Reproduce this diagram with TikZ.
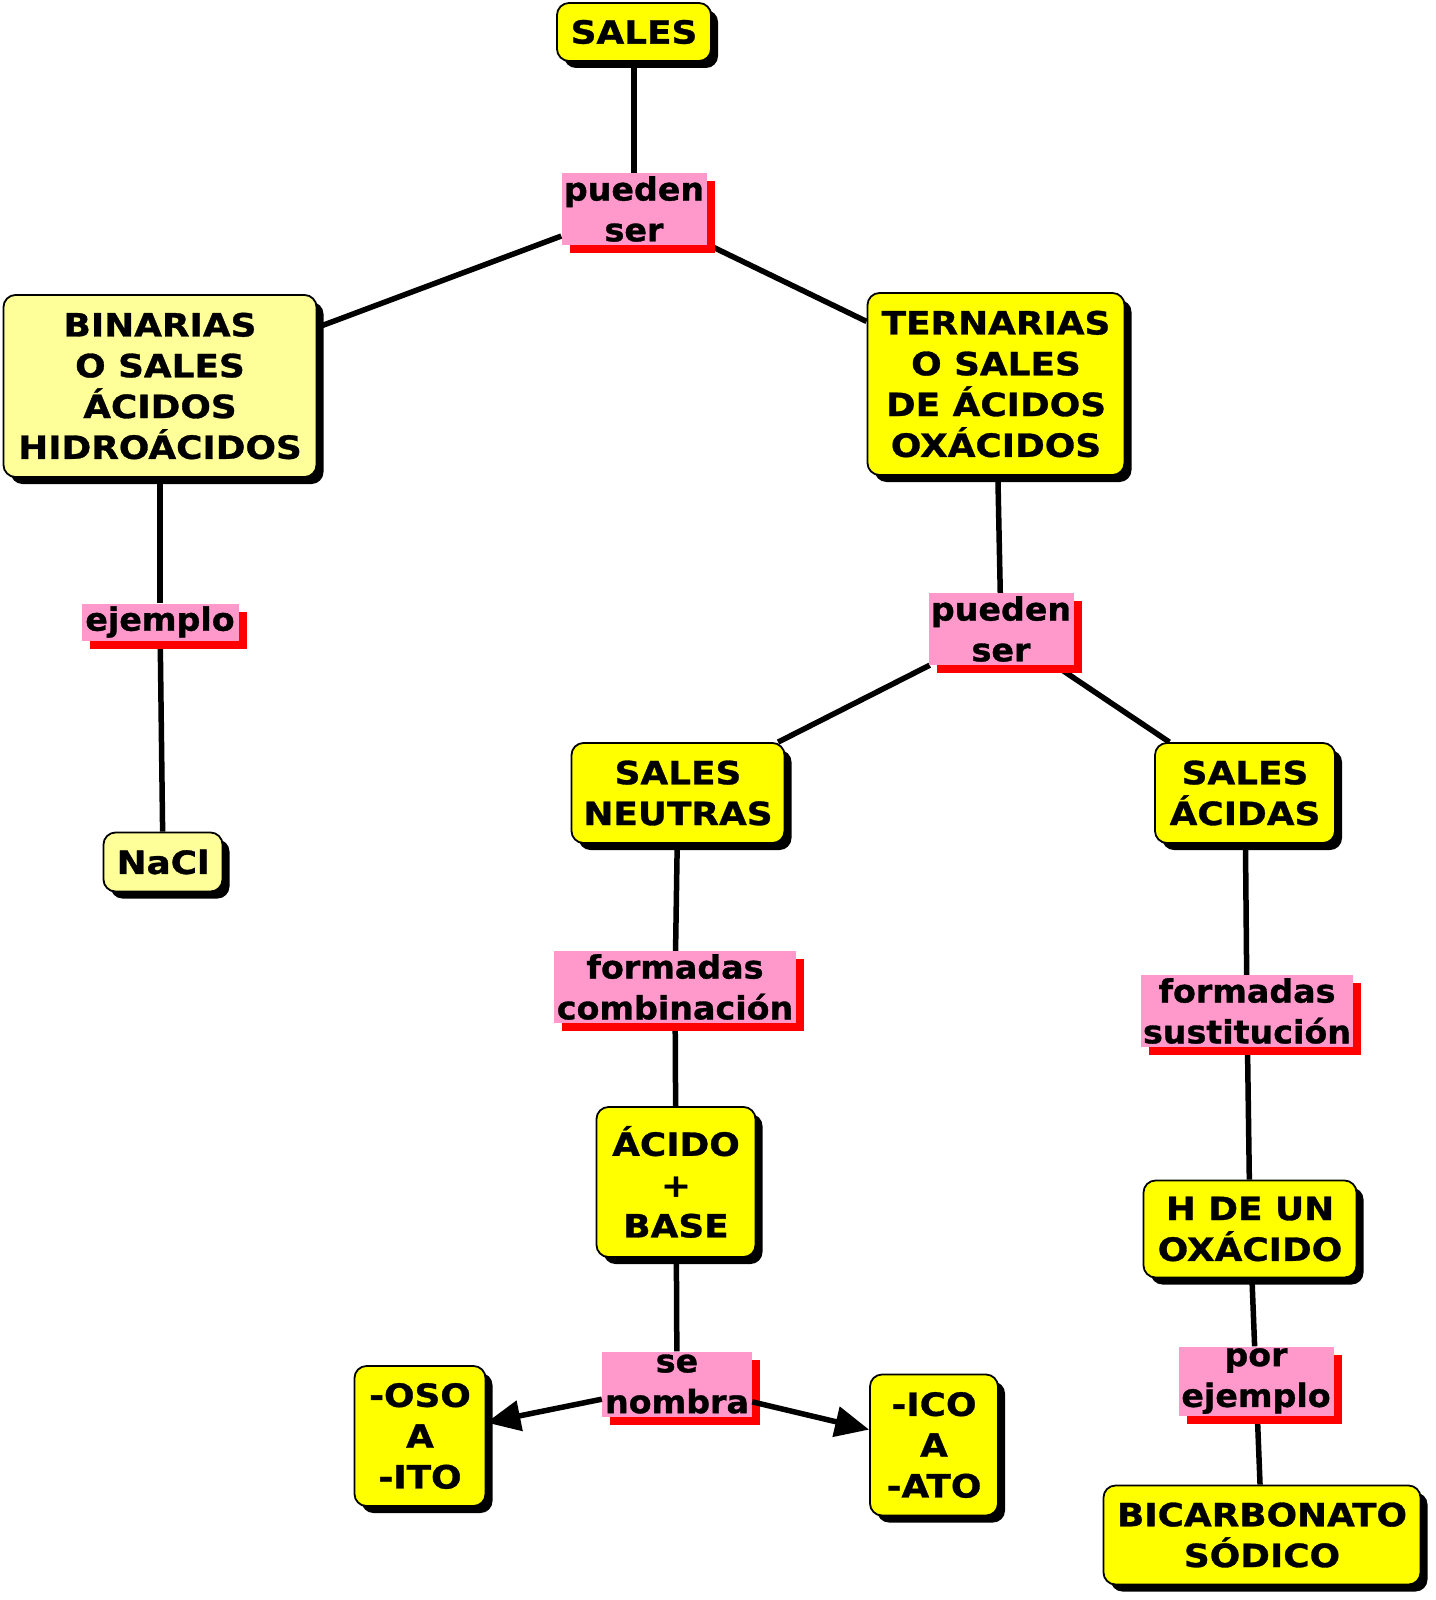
\documentclass[tikz,border=0pt]{standalone}
\usepackage{fontspec}
\setmainfont{DejaVu Sans}[FakeStretch=1.12, BoldFeatures={FakeBold=1}]
\newfontfamily\lblfont{DejaVu Sans}[FakeStretch=1.04, BoldFeatures={FakeBold=1}]
\usetikzlibrary{shadows,arrows.meta}
\pgfdeclarelayer{background}
\pgfsetlayers{background,main}
\definecolor{ybright}{HTML}{FFFF00}
\definecolor{ypale}{HTML}{FFFF99}
\definecolor{lpink}{HTML}{FF99CC}
\definecolor{lred}{HTML}{FF0000}
\tikzset{
  every node/.style={font=\bfseries\fontsize{32}{40.8}\selectfont, align=center, inner sep=0pt},
  ybox/.style={draw=black, line width=1.8pt, fill=ybright, rounded corners=12pt,
    general shadow={fill=black, shadow xshift=7pt, shadow yshift=-7pt}},
  pbox/.style={ybox, fill=ypale},
  lbl/.style={fill=lpink, font=\lblfont\bfseries\fontsize{32}{40.8}\selectfont,
    general shadow={fill=lred, shadow xshift=8pt, shadow yshift=-8pt}},
  conn/.style={line width=5.5pt, black},
  arr/.style={conn, -{Triangle[length=34pt,width=30pt]}}
}
\begin{document}
\begin{tikzpicture}[x=1pt,y=-1pt]
\useasboundingbox (0,0) rectangle (1435,1600);
\node[ybox, minimum width=154pt, minimum height=58pt] (sales) at (634,32) {SALES};
\node[lbl, minimum width=145pt, minimum height=72pt] (ps1) at (634,209) {pueden\\ser};
\node[pbox, minimum width=313pt, minimum height=182pt] (bin) at (160,386) {BINARIAS\\O SALES\\ÁCIDOS\\HIDROÁCIDOS};
\node[ybox, minimum width=257pt, minimum height=182pt] (ter) at (996,384) {TERNARIAS\\O SALES\\DE ÁCIDOS\\OXÁCIDOS};
\node[lbl, minimum width=157pt, minimum height=37pt] (ej) at (160,622) {ejemplo};
\node[pbox, minimum width=119pt, minimum height=59pt] (nacl) at (163,862) {NaCl};
\node[lbl, minimum width=145pt, minimum height=72pt] (ps2) at (1001,629) {pueden\\ser};
\node[ybox, minimum width=213pt, minimum height=100pt] (neu) at (678,793) {SALES\\NEUTRAS};
\node[ybox, minimum width=180pt, minimum height=100pt] (aci) at (1245,793) {SALES\\ÁCIDAS};
\node[lbl, minimum width=242pt, minimum height=72pt] (fc) at (675,987) {formadas\\combinación};
\node[lbl, minimum width=212pt, minimum height=72pt] (fs) at (1247,1011) {formadas\\sustitución};
\node[ybox, minimum width=159pt, minimum height=150pt] (ab) at (676,1182) {ÁCIDO\\+\\BASE};
\node[ybox, minimum width=213pt, minimum height=97pt] (h) at (1250,1229) {H DE UN\\OXÁCIDO};
\node[lbl, minimum width=150pt, minimum height=65pt] (sn) at (677,1384) {se\\nombra};
\node[lbl, minimum width=155pt, minimum height=69pt] (pe) at (1256,1381) {por\\ejemplo};
\node[ybox, minimum width=131pt, minimum height=140pt] (oso) at (420,1436) {-OSO\\A\\-ITO};
\node[ybox, minimum width=128pt, minimum height=141pt] (ico) at (934,1445) {-ICO\\A\\-ATO};
\node[ybox, minimum width=317pt, minimum height=99pt] (bic) at (1262,1535) {BICARBONATO\\SÓDICO};
\begin{pgfonlayer}{background}
\fill[white] (0,0) rectangle (1435,1600);
\draw[conn] (sales) -- (ps1);
\draw[conn] (ps1) -- (bin);
\draw[conn] (ps1) -- (ter);
\draw[conn] (bin) -- (ej);
\draw[conn] (ej) -- (nacl);
\draw[conn] (ter) -- (ps2);
\draw[conn] (ps2) -- (neu);
\draw[conn] (ps2) -- (aci);
\draw[conn] (neu) -- (fc);
\draw[conn] (fc) -- (ab);
\draw[conn] (ab) -- (sn);
\draw[conn] (aci) -- (fs);
\draw[conn] (fs) -- (h);
\draw[conn] (h) -- (pe);
\draw[conn] (pe) -- (bic);
\end{pgfonlayer}
\draw[arr] (sn) -- (oso);
\draw[arr] (sn) -- (ico);
\end{tikzpicture}
\end{document}
